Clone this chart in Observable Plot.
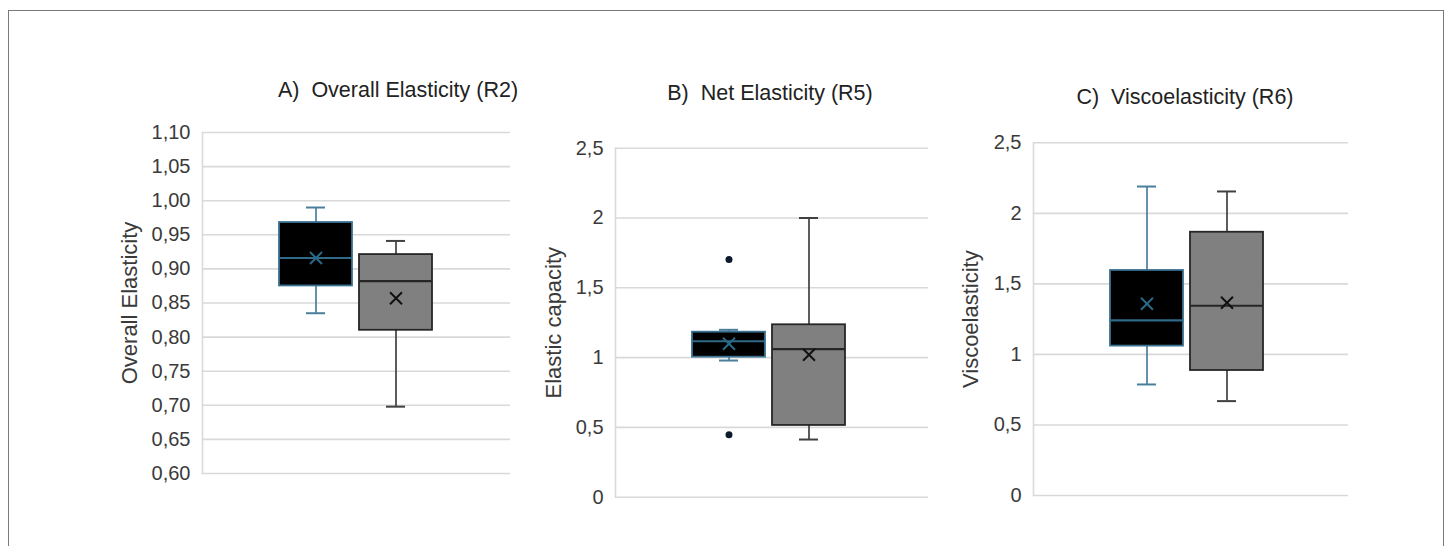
<!DOCTYPE html>
<html>
<head>
<meta charset="utf-8">
<script src="https://cdn.jsdelivr.net/npm/d3@7"></script>
<script src="https://cdn.jsdelivr.net/npm/@observablehq/plot@0.6"></script>
<style>
  html, body { margin: 0; padding: 0; background: #fff; }
  body { width: 1453px; height: 546px; position: relative; overflow: hidden; font-family: "Liberation Sans", Arial, sans-serif; }
  #border { position: absolute; left: 8px; top: 10px; width: 1436px; height: 600px; border: 1px solid #7a7a7a; box-sizing: border-box; }
  .title { position: absolute; font-size: 21.5px; color: #222; white-space: pre; transform: translate(-50%, -50%); }
  .panel { position: absolute; }
</style>
</head>
<body>
<div id="border"></div>
<script>
// ---- data ----
const groups = ["Group 1", "Group 2"];

const titles = ["A)  Overall Elasticity (R2)", "B)  Net Elasticity (R5)", "C)  Viscoelasticity (R6)"];
const yLabels = ["Overall Elasticity", "Elastic capacity", "Viscoelasticity"];

// Panel A
const aLow    = [0.835, 0.698];
const aQ1     = [0.875, 0.810];
const aMedian = [0.916, 0.882];
const aQ3     = [0.968, 0.921];
const aHigh   = [0.990, 0.941];
const aMean   = [0.916, 0.857];
const aTicks  = [0.60, 0.65, 0.70, 0.75, 0.80, 0.85, 0.90, 0.95, 1.00, 1.05, 1.10];

// Panel B
const bLow    = [0.979, 0.413];
const bQ1     = [1.003, 0.514];
const bMedian = [1.117, 1.060];
const bQ3     = [1.182, 1.235];
const bHigh   = [1.199, 2.000];
const bMean   = [1.099, 1.020];
const bOutlierGroup = ["Group 1", "Group 1"];
const bOutlierValue = [1.703, 0.447];
const bTicks  = [0, 0.5, 1, 1.5, 2, 2.5];

// Panel C
const cLow    = [0.787, 0.669];
const cQ1     = [1.059, 0.886];
const cMedian = [1.241, 1.345];
const cQ3     = [1.595, 1.866];
const cHigh   = [2.190, 2.155];
const cMean   = [1.359, 1.366];
const cTicks  = [0, 0.5, 1, 1.5, 2, 2.5];

// ---- styles ----
const boxFill     = ["#000000", "#808080"];
const boxStroke   = ["#3a7090", "#262626"];
const whiskerCol  = ["#4a7f9c", "#404040"];
const medianCol   = ["#2f6a88", "#262626"];
const meanCol     = ["#2a6a88", "#111111"];

function rows(low, q1, med, q3, high, mean) {
  return groups.map((g, i) => ({
    group: g, low: low[i], q1: q1[i], median: med[i], q3: q3[i], high: high[i], mean: mean[i],
    fill: boxFill[i], stroke: boxStroke[i], whisker: whiskerCol[i], med: medianCol[i], meanC: meanCol[i]
  }));
}

const panels = [
  { data: rows(aLow, aQ1, aMedian, aQ3, aHigh, aMean), ticks: aTicks, domain: [0.6, 1.1],
    fmt: d => d.toFixed(2).replace(".", ","), outliers: [],
    left: 110, top: 110, marginLeft: 92, marginTop: 22, plotH: 341, plotW: 308, labelDx: -73,
    title: titles[0], titleX: 398, titleY: 90, ylabel: yLabels[0] },
  { data: rows(bLow, bQ1, bMedian, bQ3, bHigh, bMean), ticks: bTicks, domain: [0, 2.5],
    fmt: d => String(d).replace(".", ","),
    outliers: bOutlierGroup.map((g, i) => ({group: g, value: bOutlierValue[i]})),
    left: 520, top: 125, marginLeft: 95, marginTop: 22.7, plotH: 349, plotW: 313, labelDx: -62,
    title: titles[1], titleX: 770, titleY: 93, ylabel: yLabels[1] },
  { data: rows(cLow, cQ1, cMedian, cQ3, cHigh, cMean), ticks: cTicks, domain: [0, 2.5],
    fmt: d => String(d).replace(".", ","), outliers: [],
    left: 940, top: 120, marginLeft: 93, marginTop: 22.3, plotH: 352.7, plotW: 315, labelDx: -63,
    title: titles[2], titleX: 1185, titleY: 97, ylabel: yLabels[2] }
];

for (const p of panels) {
  const t = document.createElement("div");
  t.className = "title";
  t.textContent = p.title;
  t.style.left = p.titleX + "px";
  t.style.top = p.titleY + "px";
  document.body.appendChild(t);

  const marginRight = 5, marginBottom = 20;
  const width = p.marginLeft + p.plotW + marginRight;
  const height = p.marginTop + p.plotH + marginBottom;
  const chart = Plot.plot({
    width, height,
    marginLeft: p.marginLeft, marginTop: p.marginTop, marginRight, marginBottom,
    style: { fontFamily: "'Liberation Sans', Arial, sans-serif", background: "transparent", overflow: "visible" },
    x: { type: "band", domain: groups, range: [p.marginLeft + 76, p.marginLeft + 230], paddingInner: 0.09, paddingOuter: 0, axis: null },
    y: { domain: p.domain },
    color: { type: "identity" },
    marks: [
      Plot.gridY(p.ticks, { stroke: "#d9d9d9", strokeOpacity: 1, strokeWidth: 1.6 }),
      Plot.frame({ anchor: "left", stroke: "#d9d9d9", strokeWidth: 1.6 }),
      Plot.axisY(p.ticks, { tickSize: 0, tickPadding: 12, tickFormat: p.fmt, fontSize: 20, fill: "#3a3a3a", label: null }),
      Plot.ruleX(p.data, { x: "group", y1: "low", y2: "high", stroke: "whisker", strokeWidth: 1.7 }),
      Plot.tickY(p.data, { x: "group", y: "low", stroke: "whisker", strokeWidth: 2, insetLeft: 27, insetRight: 27 }),
      Plot.tickY(p.data, { x: "group", y: "high", stroke: "whisker", strokeWidth: 2, insetLeft: 27, insetRight: 27 }),
      Plot.barY(p.data, { x: "group", y1: "q1", y2: "q3", fill: "fill", stroke: "stroke", strokeWidth: 1.8 }),
      Plot.tickY(p.data, { x: "group", y: "median", stroke: "med", strokeWidth: 2.2 }),
      Plot.dot(p.data, { x: "group", y: "mean", symbol: "times", r: 5.5, stroke: "meanC", strokeWidth: 2 }),
      Plot.dot(p.outliers, { x: "group", y: "value", r: 3.5, fill: "#0b1b2b", stroke: "none" }),
      Plot.text([p.ylabel], { frameAnchor: "left", textAnchor: "middle", rotate: -90, dx: p.labelDx, fontSize: 22, fill: "#3a3a3a" })
    ]
  });
  const wrap = document.createElement("div");
  wrap.className = "panel";
  wrap.style.left = p.left + "px";
  wrap.style.top = p.top + "px";
  wrap.appendChild(chart);
  document.body.appendChild(wrap);
}
</script>
</body>
</html>
